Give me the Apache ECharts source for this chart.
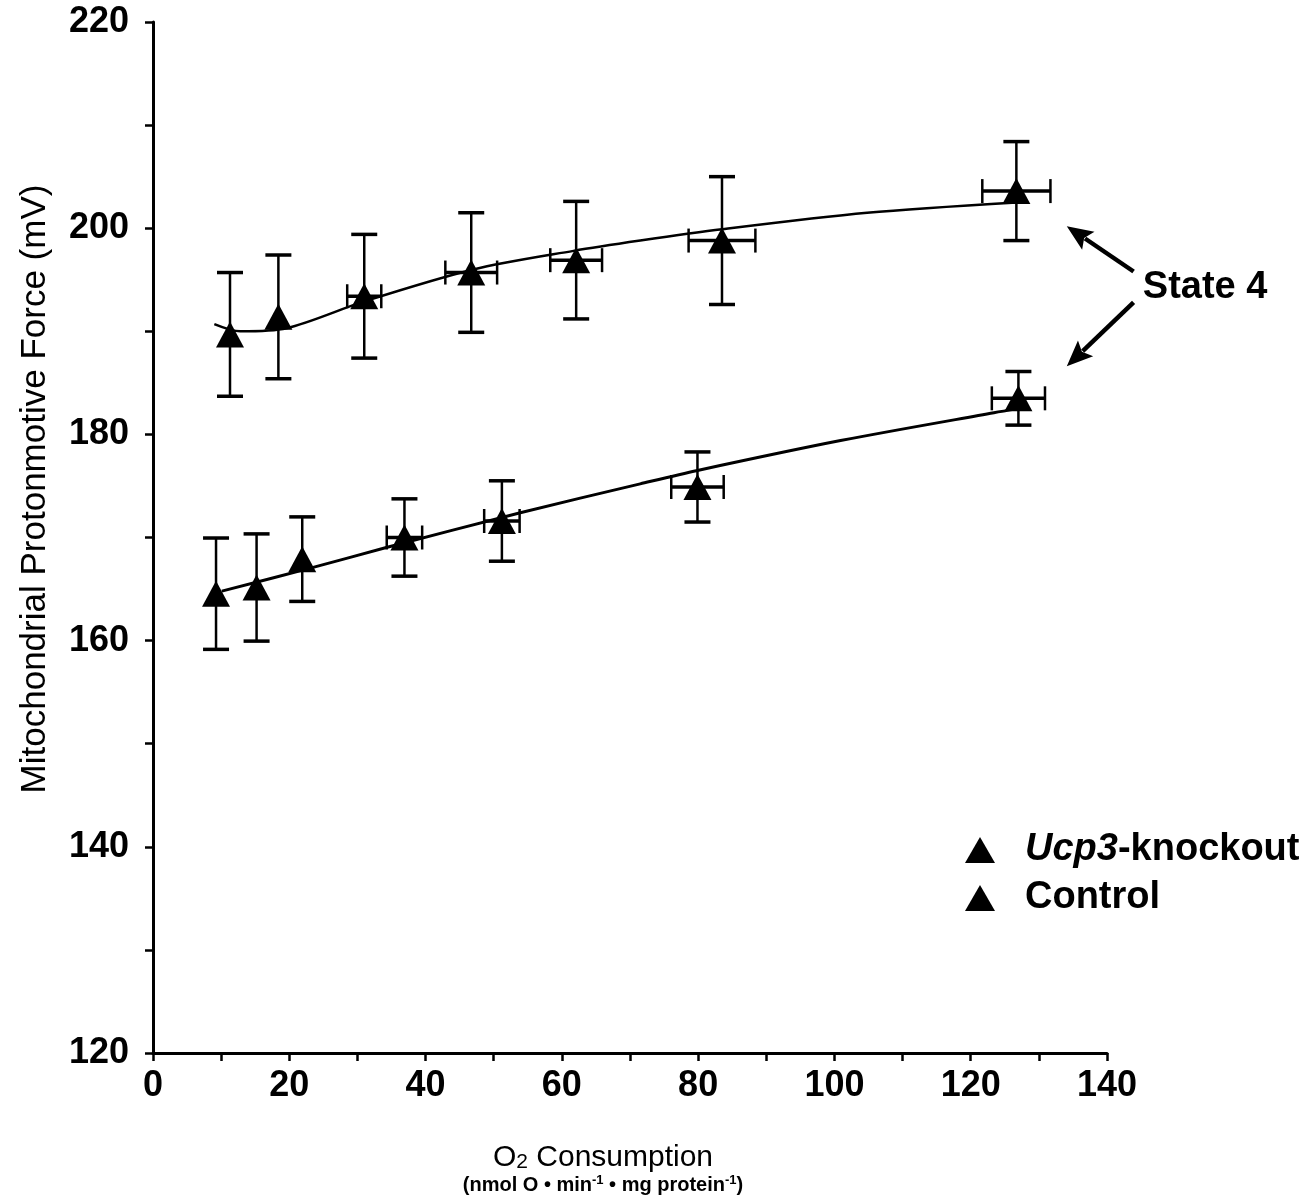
<!DOCTYPE html>
<html>
<head>
<meta charset="utf-8">
<script src="https://cdn.jsdelivr.net/npm/echarts@6/dist/echarts.min.js"></script>
<style>
html, body { margin: 0; padding: 0; background: #fff; }
#chart { width: 1313px; height: 1203px; }
</style>
</head>
<body>
<div id="chart"></div>
<script>
// State 4 points, Ucp3-knockout (upper) and control (lower)
const koX = [11.3, 18.4, 31.0, 46.7, 62.1, 83.5, 126.7];
const koY = [189.7, 191.4, 193.4, 195.7, 196.9, 198.8, 203.6];
const koYErr = [6.0, 6.0, 6.0, 5.8, 5.7, 6.2, 4.8];
const koXErr = [0, 0, 2.5, 3.8, 3.8, 4.9, 5.0];

const ctlX = [9.25, 15.2, 21.9, 36.9, 51.2, 79.9, 127.0];
const ctlY = [164.55, 165.15, 167.9, 170.0, 171.6, 174.9, 183.5];
const ctlYErr = [5.4, 5.2, 4.1, 3.75, 3.9, 3.4, 2.6];
const ctlXErr = [0, 0, 0, 2.6, 2.6, 3.85, 3.9];

// fitted curves
const koFitX = [9.0, 12.8, 19.6, 31.0, 47.0, 61.7, 71.5, 83.5, 104.8, 126.7];
const koFitY = [190.7, 190.0, 190.3, 192.9, 196.0, 197.8, 198.8, 199.9, 201.5, 202.5];
const ctlFitX = [10.1, 23.5, 34.1, 53.9, 71.5, 79.9, 100.9, 123.4, 127.0];
const ctlFitY = [164.8, 167.1, 169.0, 172.4, 175.2, 176.5, 179.4, 182.1, 182.5];

const FONT = 'Liberation Sans';

let chart = echarts.init(document.getElementById('chart'));

function pairs(xs, ys) {
	return xs.map((x, i) => [x, ys[i]]);
}

function errItem(params, api) {
	let x = api.value(0), y = api.value(1), xe = api.value(2), ye = api.value(3);
	let st = { stroke: '#000', lineWidth: 2.5 };
	let cap = { stroke: '#000', lineWidth: 3.5 };
	let kids = [];
	let top = api.coord([x, y + ye]);
	let bot = api.coord([x, y - ye]);
	kids.push({ type: 'line', shape: { x1: top[0], y1: top[1], x2: bot[0], y2: bot[1] }, style: st });
	kids.push({ type: 'line', shape: { x1: top[0] - 13, y1: top[1], x2: top[0] + 13, y2: top[1] }, style: cap });
	kids.push({ type: 'line', shape: { x1: bot[0] - 13, y1: bot[1], x2: bot[0] + 13, y2: bot[1] }, style: cap });
	if (xe > 0) {
		let l = api.coord([x - xe, y]);
		let r = api.coord([x + xe, y]);
		kids.push({ type: 'line', shape: { x1: l[0], y1: l[1], x2: r[0], y2: r[1] }, style: cap });
		kids.push({ type: 'line', shape: { x1: l[0], y1: l[1] - 12, x2: l[0], y2: l[1] + 12 }, style: st });
		kids.push({ type: 'line', shape: { x1: r[0], y1: r[1] - 12, x2: r[0], y2: r[1] + 12 }, style: st });
	}
	return { type: 'group', children: kids };
}

let option = {
	animation: false,
	backgroundColor: '#fff',
	grid: { left: 153, right: 206, top: 22, bottom: 150 },
	xAxis: {
		type: 'value', min: 0, max: 140, interval: 10,
		splitLine: { show: false },
		axisLine: { lineStyle: { color: '#000', width: 3 } },
		axisTick: { length: 8, lineStyle: { color: '#000', width: 2.5 } },
		axisLabel: {
			margin: 15, color: '#000', fontSize: 36, fontWeight: 'bold', fontFamily: FONT,
			formatter: v => (v % 20 === 0 ? String(v) : '')
		}
	},
	yAxis: {
		type: 'value', min: 120, max: 220, interval: 10,
		splitLine: { show: false },
		axisLine: { lineStyle: { color: '#000', width: 3 } },
		axisTick: { length: 8, lineStyle: { color: '#000', width: 2.5 } },
		axisLabel: {
			margin: 24, color: '#000', fontSize: 36, fontWeight: 'bold', fontFamily: FONT,
			formatter: v => (v % 20 === 0 ? String(v) : '')
		}
	},
	legend: {
		orient: 'vertical', left: 960, top: 826, itemGap: 10,
		itemWidth: 30, itemHeight: 26, icon: 'triangle',
		itemStyle: { color: '#000', opacity: 1 },
		data: ['Ucp3-knockout', 'Control'],
		formatter: name => (name === 'Control' ? '{sp|}{b|Control}' : '{sp|}{i|Ucp3}{b|-knockout}'),
		textStyle: {
			color: '#000', fontSize: 38, fontWeight: 'bold', fontFamily: FONT,
			rich: {
				sp: { width: 25 },
				b: { color: '#000', fontSize: 38, fontWeight: 'bold', fontFamily: FONT },
				i: { color: '#000', fontSize: 38, fontWeight: 'bold', fontStyle: 'italic', fontFamily: FONT }
			}
		}
	},
	series: [
		{
			type: 'line', data: pairs(koFitX, koFitY), smooth: 0.3, showSymbol: false, silent: true,
			lineStyle: { color: '#000', width: 2.5 }
		},
		{
			type: 'line', data: pairs(ctlFitX, ctlFitY), smooth: 0.3, showSymbol: false, silent: true,
			lineStyle: { color: '#000', width: 3 }
		},
		{
			type: 'custom', renderItem: errItem, silent: true,
			encode: { x: 0, y: 1 },
			data: koX.map((x, i) => [x, koY[i], koXErr[i], koYErr[i]])
		},
		{
			type: 'custom', renderItem: errItem, silent: true,
			encode: { x: 0, y: 1 },
			data: ctlX.map((x, i) => [x, ctlY[i], ctlXErr[i], ctlYErr[i]])
		},
		{
			name: 'Ucp3-knockout', type: 'scatter', data: pairs(koX, koY),
			symbol: 'triangle', symbolSize: [28, 26], itemStyle: { color: '#000', opacity: 1 }, z: 5
		},
		{
			name: 'Control', type: 'scatter', data: pairs(ctlX, ctlY),
			symbol: 'triangle', symbolSize: [28, 26], itemStyle: { color: '#000', opacity: 1 }, z: 5
		}
	]
};
chart.setOption(option);

// "State 4" annotation arrows, given in data coordinates
let arrows = [
	[[143.9, 195.8], [134.1, 200.2]],
	[[143.9, 192.8], [134.1, 186.6]]
];
let graphics = [];
arrows.forEach(([a, b]) => {
	let p0 = chart.convertToPixel({ gridIndex: 0 }, a);
	let p1 = chart.convertToPixel({ gridIndex: 0 }, b);
	let dx = p1[0] - p0[0], dy = p1[1] - p0[1];
	let len = Math.sqrt(dx * dx + dy * dy);
	let ux = dx / len, uy = dy / len;
	let head = 26, half = 11;
	let bx = p1[0] - ux * head, by = p1[1] - uy * head;
	graphics.push({
		type: 'line',
		shape: { x1: p0[0], y1: p0[1], x2: bx + ux * 4, y2: by + uy * 4 },
		style: { stroke: '#000', lineWidth: 4.5 }
	});
	graphics.push({
		type: 'polygon',
		shape: { points: [p1, [bx - uy * half, by + ux * half], [bx + ux * 5, by + uy * 5], [bx + uy * half, by - ux * half]] },
		style: { fill: '#000' }
	});
});
let lbl = chart.convertToPixel({ gridIndex: 0 }, [154.4, 194.2]);
graphics.push({
	type: 'text', x: lbl[0], y: lbl[1],
	style: { text: 'State 4', fill: '#000', font: 'bold 38px "Liberation Sans"', align: 'center', verticalAlign: 'middle' }
});
// axis titles
graphics.push({
	type: 'text', x: 35, y: 489, rotation: Math.PI / 2,
	style: {
		text: 'Mitochondrial Protonmotive Force (mV)', fill: '#000',
		font: '35px "Liberation Sans"', align: 'center', verticalAlign: 'middle'
	}
});
graphics.push({
	type: 'text', x: 603, y: 1156,
	style: {
		text: '{n|O}{s|2}{n| Consumption}', align: 'center', verticalAlign: 'middle',
		rich: {
			n: { fontSize: 30, fontFamily: FONT, fill: '#000', lineHeight: 34, verticalAlign: 'bottom' },
			s: { fontSize: 21, fontFamily: FONT, fill: '#000', lineHeight: 30, verticalAlign: 'bottom' }
		}
	}
});
graphics.push({
	type: 'text', x: 603, y: 1185,
	style: {
		text: '{b|(nmol O • min}{u|-1}{b| • mg protein}{u|-1}{b|)}', align: 'center', verticalAlign: 'middle',
		rich: {
			b: { fontSize: 20, fontWeight: 'bold', fontFamily: FONT, fill: '#000', lineHeight: 22 },
			u: { fontSize: 13, fontWeight: 'bold', fontFamily: FONT, fill: '#000', lineHeight: 22, verticalAlign: 'top' }
		}
	}
});
chart.setOption({ graphic: graphics });
</script>
</body>
</html>
